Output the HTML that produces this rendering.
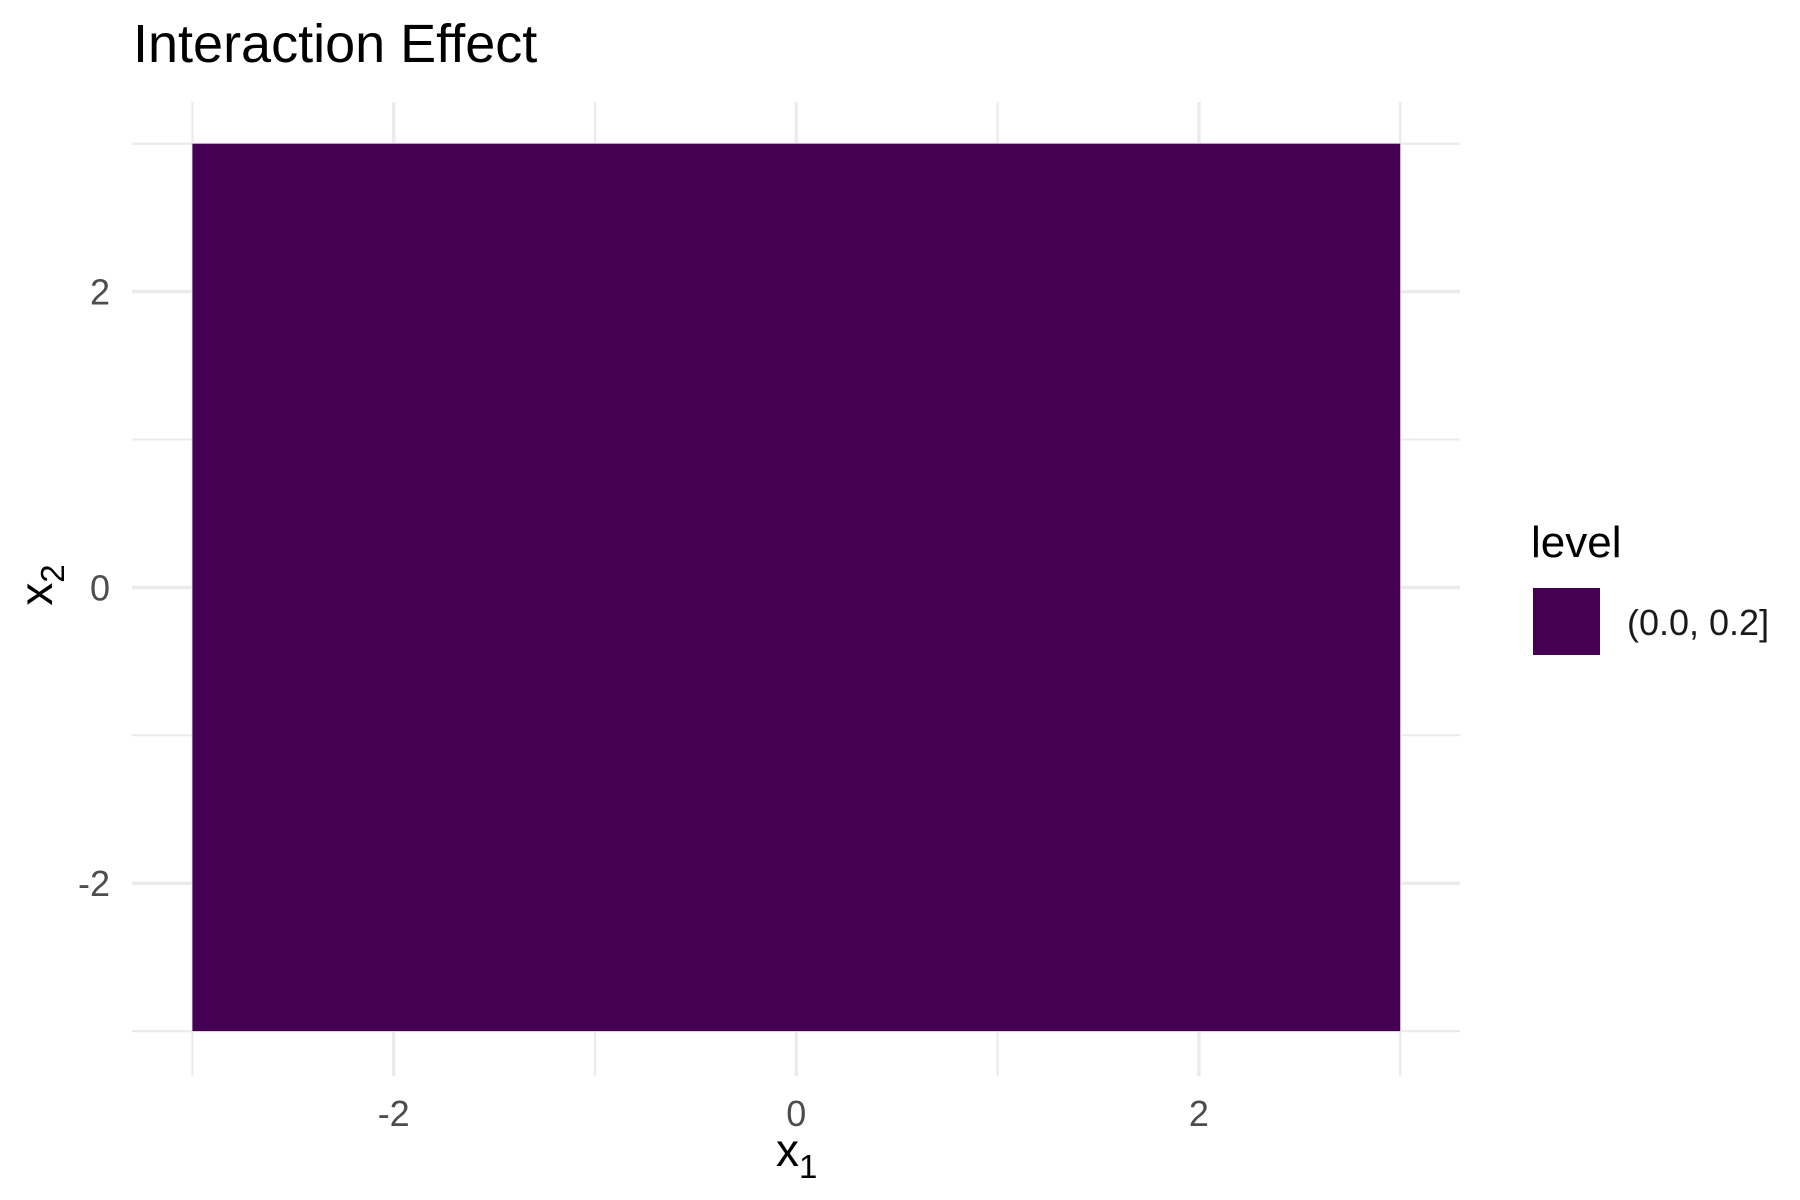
<!DOCTYPE html>
<html><head><meta charset="utf-8"><style>
body{margin:0;background:#fff;}
svg{display:block;font-family:"Liberation Sans",sans-serif;}
</style></head><body>
<svg id="chart" width="1800" height="1200" xmlns="http://www.w3.org/2000/svg">
<text x="133" y="62" font-size="54" fill="#000">Interaction Effect</text>
<g id="grid"></g>
<g id="tiles"></g>
<g id="ticks"></g>
<text x="776" y="1166" font-size="46" fill="#000">x<tspan font-size="33" dy="12">1</tspan></text>
<text transform="translate(52,585) rotate(-90)" font-size="46" fill="#000" text-anchor="middle">x<tspan font-size="33" dy="12">2</tspan></text>
<text x="1531" y="557" font-size="44" fill="#000">level</text>
<rect x="1533" y="588" width="67" height="67" fill="#440154"/>
<text x="1627" y="635" font-size="36" fill="#1a1a1a">(0.0, 0.2]</text>
</svg>
<script>
const xTicks=[-2,0,2];
const yTicks=[-2,0,2];
const minorTicks=[-3,-1,1,3];
const tileX0=[-3];
const tileX1=[3];
const tileY0=[-3];
const tileY1=[3];
const tileColors=["#440154"];
const xs=v=>796.3+v*201.3;
const ys=v=>587.4-v*147.9;
const NS="http://www.w3.org/2000/svg";
const grid=document.getElementById('grid'),tiles=document.getElementById('tiles'),ticks=document.getElementById('ticks');
function line(x1,y1,x2,y2,w,name){const l=document.createElementNS(NS,'line');l.setAttribute('x1',x1);l.setAttribute('y1',y1);l.setAttribute('x2',x2);l.setAttribute('y2',y2);l.setAttribute('stroke','#ebebeb');l.setAttribute('stroke-width',w);


grid.appendChild(l);}
minorTicks.concat([-3,3]).forEach(v=>{line(xs(v),102,xs(v),1076,2,'x-minor-gridline');line(132,ys(v),1460,ys(v),2,'y-minor-gridline');});
xTicks.forEach(v=>line(xs(v),102,xs(v),1076,3.5,'x-major-gridline'));
yTicks.forEach(v=>line(132,ys(v),1460,ys(v),3.5,'y-major-gridline'));
tileX0.forEach((x0,i)=>{const r=document.createElementNS(NS,'rect');r.setAttribute('x',xs(x0));r.setAttribute('y',ys(tileY1[i]));r.setAttribute('width',xs(tileX1[i])-xs(x0));r.setAttribute('height',ys(tileY0[i])-ys(tileY1[i]));r.setAttribute('fill',tileColors[i]);


tiles.appendChild(r);});
function txt(x,y,s,anchor,name){const t=document.createElementNS(NS,'text');t.setAttribute('x',x);t.setAttribute('y',y);t.setAttribute('font-size','36');t.setAttribute('fill','#4d4d4d');t.setAttribute('text-anchor',anchor);t.textContent=s;


ticks.appendChild(t);}
xTicks.forEach(v=>txt(xs(v),1126,String(v),'middle','x-tick-label'));
yTicks.forEach(v=>txt(110,ys(v)+13,String(v),'end','y-tick-label'));
</script>
</body></html>
